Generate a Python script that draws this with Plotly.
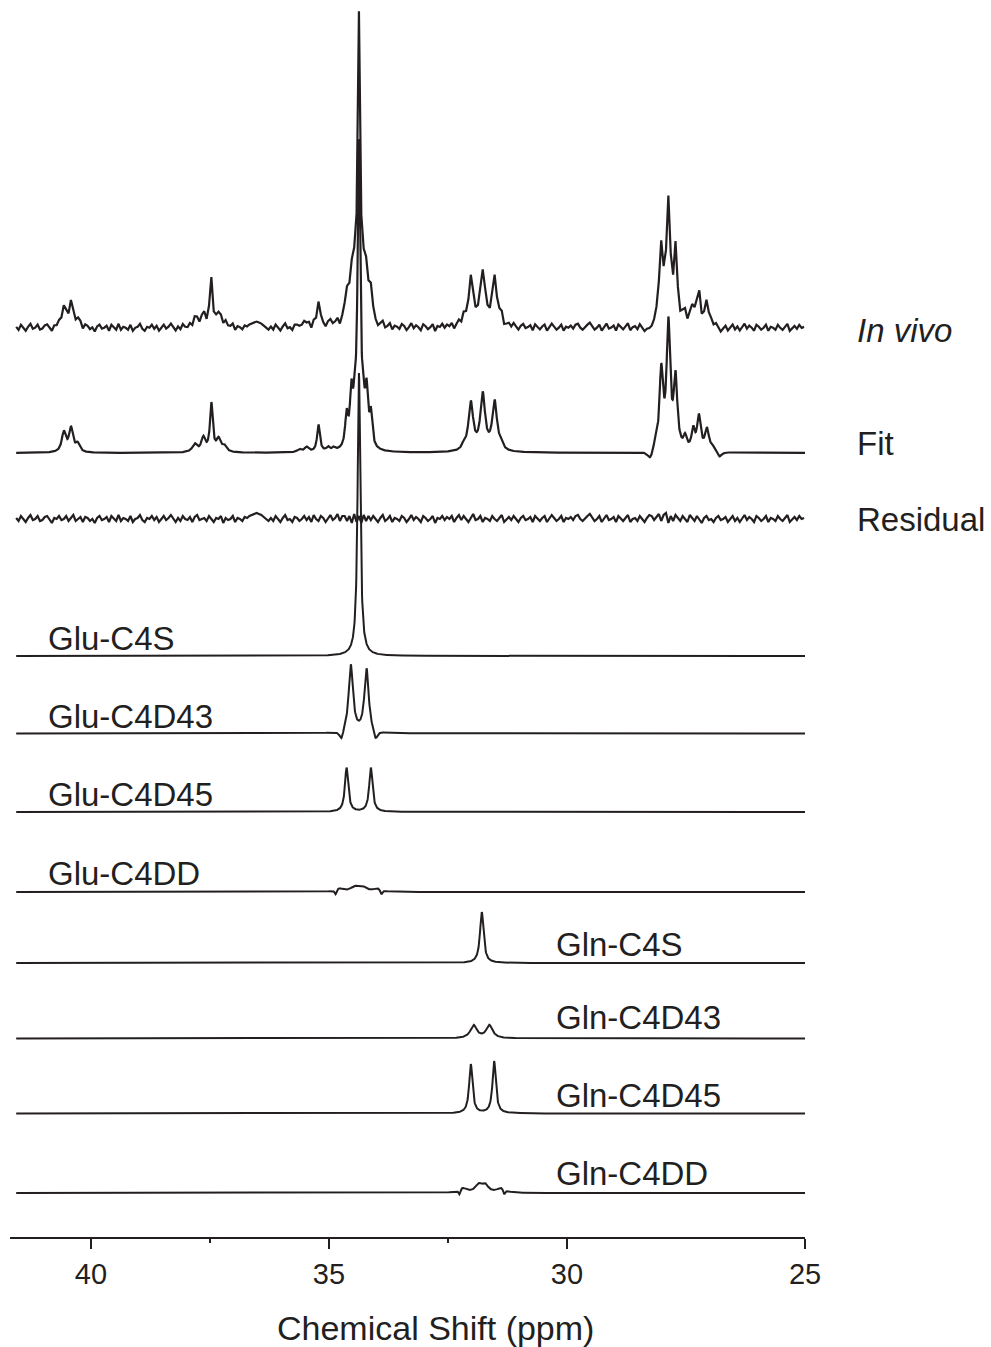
import numpy as np
import plotly.graph_objects as go

# ---------------- axis data ----------------
x_range = [41.70, 25.0]
tick_vals = [40, 35, 30, 25]
tick_text = ["40", "35", "30", "25"]
minor_tick_vals = [37.5, 32.5]
x_title = "Chemical Shift (ppm)"

# ---------------- peak tables (ppm, height, half-width) ----------------
fit_pos = [40.57, 40.42, 40.28,
           37.82, 37.64, 37.47, 37.32, 37.20,
           35.62, 35.47, 35.22, 35.02, 34.90,
           34.63, 34.53, 34.46, 34.37, 34.28, 34.21, 34.12,
           32.17, 32.02, 31.77, 31.52, 31.39,
           28.25, 28.15, 28.02, 27.87, 27.72, 27.52, 27.35, 27.23, 27.06, 26.95, 26.87, 26.80]
fit_amp = [20, 24, 8,
           8, 14, 48, 12, 6,
           3, 5, 27, 4, 3,
           32, 50, 30, 300, 30, 50, 32,
           5, 48, 56, 49, 6,
           -10, 6, 78, 124, 70, 12, 20, 34, 22, 4, 3, -6]
fit_hw = [0.05, 0.05, 0.05,
          0.06, 0.05, 0.035, 0.05, 0.06,
          0.05, 0.05, 0.035, 0.04, 0.04,
          0.035, 0.035, 0.035, 0.034, 0.035, 0.035, 0.035,
          0.04, 0.06, 0.06, 0.06, 0.04,
          0.08, 0.04, 0.045, 0.045, 0.045, 0.04, 0.04, 0.045, 0.05, 0.04, 0.04, 0.06]

glu_c4s_pos = [34.37]
glu_c4s_amp = [283]
glu_c4s_hw = [0.034]

glu_c4d43_pos = [34.54, 34.21, 34.74, 34.02]
glu_c4d43_amp = [68, 64, -10, -10]
glu_c4d43_hw = [0.055, 0.055, 0.05, 0.05]

glu_c4d45_pos = [34.63, 34.12]
glu_c4d45_amp = [44, 44]
glu_c4d45_hw = [0.042, 0.042]

glu_c4dd_pos = [34.79, 34.46, 34.30, 33.98, 34.86, 33.90]
glu_c4dd_amp = [3.5, 4.5, 4.5, 3.5, -5, -5]
glu_c4dd_hw = [0.1, 0.1, 0.1, 0.1, 0.025, 0.025]

gln_c4s_pos = [31.79]
gln_c4s_amp = [51]
gln_c4s_hw = [0.045]

gln_c4d43_pos = [31.96, 31.63]
gln_c4d43_amp = [13, 13]
gln_c4d43_hw = [0.08, 0.08]

gln_c4d45_pos = [32.02, 31.53]
gln_c4d45_amp = [49, 52]
gln_c4d45_hw = [0.042, 0.042]

gln_c4dd_pos = [32.20, 31.86, 31.72, 31.38, 32.26, 31.32]
gln_c4dd_amp = [5, 7.5, 7.5, 5, -5.5, -5.5]
gln_c4dd_hw = [0.1, 0.08, 0.08, 0.1, 0.025, 0.025]

# residual (In vivo minus Fit), sampled every 0.05 ppm from 41.57 ppm
residual_start = 41.57
residual_step = 0.05
residual_vals = [
    1, -2, 3, 0, -3, 1, 4, -1, 0, 3, -2, -1, 2, 3, 0, -4, 1, 0, 3, -1,
    0, 3, -2, 1, 4, -2, 0, 2, -3, 2, 1, -2, 0, -4, 1, 3, -1, 0, 2, -3,
    3, 0, -2, 4, -2, 1, 0, -2, 3, -3, 0, 1, 4, -1, -3, 1, 0, 3, -1, 2,
    -3, 0, 3, -1, 1, 4, 0, -3, 1, -2, 3, 0, -1, 2, -3, 2, 4, -1, 0, 1,
    -2, 3, 0, -3, 1, 0, 3, -4, 1, -1, 0, 3, -3, 1, 0, -2, 2, 1, 3, 4,
    5, 6, 5, 4, 2, 0, -2, 1, -2, 3, 0, -3, 1, 4, -1, 0, -3, 2, 1, -2,
    0, 3, -1, 2, -3, 4, 0, -2, 3, 1, -3, 0, 4, -1, 1, 5, -2, 3, 3, -2,
    3, -4, 5, -3, 3, -4, 4, -2, 3, -1, 3, 0, -3, 1, 4, -2, 0, 3, -3, 1,
    0, -2, 3, 1, -3, 0, 4, -1, 2, 0, -3, 3, 1, -2, 0, 3, -4, 1, 0, 3,
    -1, 2, 0, 3, -3, 1, 4, -1, 3, 0, -3, 1, 5, -1, 0, 3, -3, 1, 0, -2,
    3, 0, -2, 1, 4, -3, 0, 2, -1, 3, 0, -3, 1, 3, -1, 0, 2, -3, 3, 0,
    -2, 1, 3, -3, 0, 4, 1, -2, 0, 3, -3, 1, 0, 2, -1, 3, 4, 0, -2, 1,
    3, 5, 1, -2, 0, 3, -3, 1, 4, -1, 0, 2, -3, 3, 0, -2, 1, 4, -3, 0,
    1, -2, 3, 0, -3, 1, 4, 3, -1, 2, 5, -2, 4, 6, -4, 3, -2, 4, 1, -2,
    3, 0, -3, 4, 1, -2, 3, 0, -4, 1, 3, -1, 0, -3, 1, 3, -1, 0, 2, -3,
    0, 3, -2, 1, -3, 0, 4, -1, 2, 0, -3, 3, 1, -2, 0, 3, -3, 1, 0, -2,
    3, 0, -2, 1, 4, -3, 0, 2, -1, 3, 0, 1,
]

# ---------------- layout constants ----------------
W, H = 991, 1347
PLOT_L, PLOT_R, PLOT_B = 10, 805, 1237   # pixel edges of plotting area
INK = "#231f20"
FONT = "Arial, 'Liberation Sans', Helvetica, sans-serif"

# vertical baselines of stacked traces (pixel rows in the picture)
baseline_px = {
    "In vivo": 328, "Fit": 453, "Residual": 519,
    "Glu-C4S": 656, "Glu-C4D43": 733.5, "Glu-C4D45": 812, "Glu-C4DD": 892,
    "Gln-C4S": 963, "Gln-C4D43": 1038.5, "Gln-C4D45": 1113.5, "Gln-C4DD": 1193,
}


def offset(name):
    return PLOT_B - baseline_px[name]


def lineshape(x, pos, amp, hw):
    y = np.zeros_like(x)
    for p, a, w in zip(pos, amp, hw):
        y += a / (1.0 + ((x - p) / w) ** 2)
    return y


x_fine = np.arange(41.57, 24.999, -0.005)
res_x = residual_start - residual_step * np.arange(len(residual_vals))
res_y = np.array(residual_vals, dtype=float)

fit_fine = lineshape(x_fine, fit_pos, fit_amp, fit_hw)
invivo = lineshape(res_x, fit_pos, fit_amp, fit_hw) + res_y

components = [
    ("Glu-C4S", glu_c4s_pos, glu_c4s_amp, glu_c4s_hw),
    ("Glu-C4D43", glu_c4d43_pos, glu_c4d43_amp, glu_c4d43_hw),
    ("Glu-C4D45", glu_c4d45_pos, glu_c4d45_amp, glu_c4d45_hw),
    ("Glu-C4DD", glu_c4dd_pos, glu_c4dd_amp, glu_c4dd_hw),
    ("Gln-C4S", gln_c4s_pos, gln_c4s_amp, gln_c4s_hw),
    ("Gln-C4D43", gln_c4d43_pos, gln_c4d43_amp, gln_c4d43_hw),
    ("Gln-C4D45", gln_c4d45_pos, gln_c4d45_amp, gln_c4d45_hw),
    ("Gln-C4DD", gln_c4dd_pos, gln_c4dd_amp, gln_c4dd_hw),
]

fig = go.Figure()
line_main = dict(color=INK, width=2.2)

fig.add_trace(go.Scatter(x=res_x, y=invivo + offset("In vivo"), mode="lines",
                         line=line_main, name="In vivo", showlegend=False))
fig.add_trace(go.Scatter(x=x_fine, y=fit_fine + offset("Fit"), mode="lines",
                         line=line_main, name="Fit", showlegend=False))
fig.add_trace(go.Scatter(x=res_x, y=res_y + offset("Residual"), mode="lines",
                         line=line_main, name="Residual", showlegend=False))
for name, pos, amp, hw in components:
    fig.add_trace(go.Scatter(x=x_fine, y=lineshape(x_fine, pos, amp, hw) + offset(name),
                             mode="lines", line=dict(color=INK, width=2),
                             name=name, showlegend=False))

# ---------------- labels ----------------
label_pos = {  # left x pixel, centre y pixel
    "Glu-C4S": (46, 638), "Glu-C4D43": (46, 716), "Glu-C4D45": (46, 794), "Glu-C4DD": (46, 873),
    "Gln-C4S": (554, 944), "Gln-C4D43": (554, 1017), "Gln-C4D45": (554, 1095), "Gln-C4DD": (554, 1173),
    "Fit": (855, 443), "Residual": (855, 519),
}
plot_w = PLOT_R - PLOT_L


def ann(text, xpx, ypx, size, italic=False, anchor="left"):
    fig.add_annotation(
        text=text, xref="paper", yref="paper",
        x=(xpx - PLOT_L) / plot_w, y=(PLOT_B - ypx) / PLOT_B,
        xanchor=anchor, yanchor="middle", showarrow=False,
        font=dict(family=FONT, size=size, color=INK,
                  style="italic" if italic else "normal"),
    )


for name, (xp, yp) in label_pos.items():
    ann(name, xp, yp, 33)
ann("In vivo", 855, 330, 33, italic=True)
ann(x_title, 435, 1328, 34, anchor="center")

fig.update_layout(
    width=W, height=H,
    margin=dict(l=PLOT_L, r=W - PLOT_R, t=0, b=H - PLOT_B),
    paper_bgcolor="white", plot_bgcolor="white",
    showlegend=False,
    xaxis=dict(
        range=x_range, showgrid=False, zeroline=False,
        showline=True, linecolor=INK, linewidth=2,
        tickmode="array", tickvals=tick_vals, ticktext=tick_text,
        ticks="outside", ticklen=10, tickwidth=2, tickcolor=INK,
        tickfont=dict(family=FONT, size=29, color=INK),
        minor=dict(tickmode="array", tickvals=minor_tick_vals, ticks="outside",
                   ticklen=4, tickwidth=2, tickcolor=INK),
    ),
    yaxis=dict(range=[0, PLOT_B], visible=False, fixedrange=True),
)

fig.write_html("out.html", config={"displayModeBar": False},
               post_script="document.body.style.margin='0';document.body.style.padding='0';")
